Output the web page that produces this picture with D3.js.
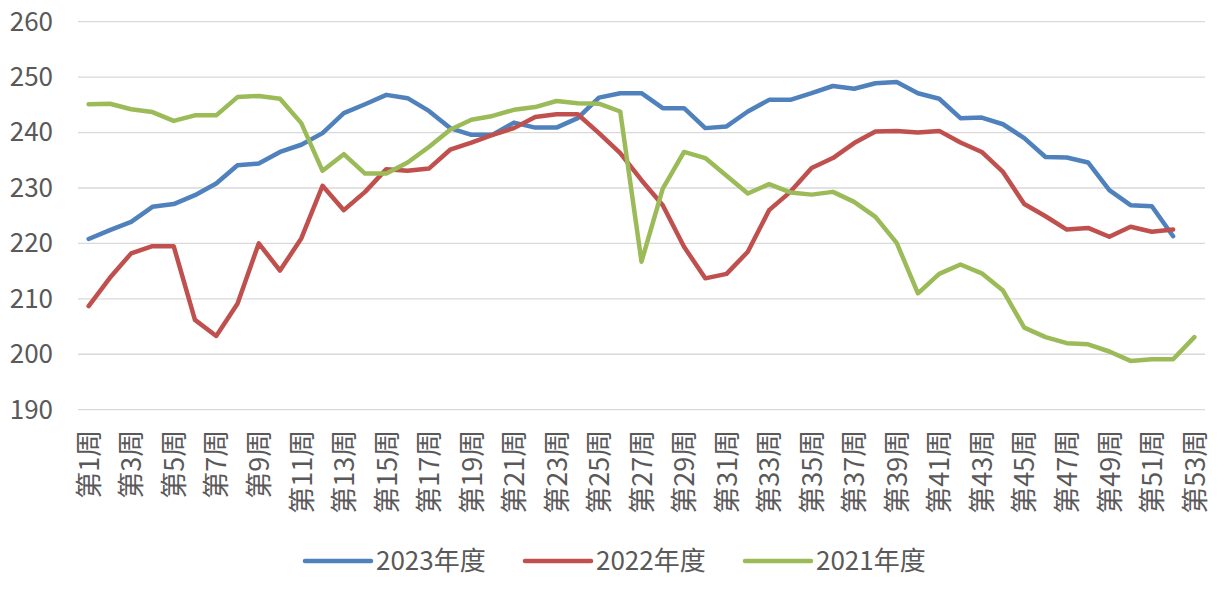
<!DOCTYPE html>
<html><head><meta charset="utf-8">
<script src="https://cdn.jsdelivr.net/npm/d3@7"></script>
<style>body{margin:0;background:#fff}svg{display:block}</style>
</head><body>
<svg id="c" width="1225" height="593"></svg>
<script>
const weeks = ["第1周","第2周","第3周","第4周","第5周","第6周","第7周","第8周","第9周","第10周",
"第11周","第12周","第13周","第14周","第15周","第16周","第17周","第18周","第19周","第20周",
"第21周","第22周","第23周","第24周","第25周","第26周","第27周","第28周","第29周","第30周",
"第31周","第32周","第33周","第34周","第35周","第36周","第37周","第38周","第39周","第40周",
"第41周","第42周","第43周","第44周","第45周","第46周","第47周","第48周","第49周","第50周",
"第51周","第52周","第53周"];
const tickLabels = ["第1周","第3周","第5周","第7周","第9周","第11周","第13周","第15周","第17周","第19周",
"第21周","第23周","第25周","第27周","第29周","第31周","第33周","第35周","第37周","第39周",
"第41周","第43周","第45周","第47周","第49周","第51周","第53周"];
const yTicks = [190,200,210,220,230,240,250,260];
const seriesNames = ["2023年度","2022年度","2021年度"];
const v2023 = [220.8,222.4,223.9,226.6,227.1,228.7,230.8,234.1,234.4,236.5,
237.8,239.9,243.5,245.1,246.8,246.2,243.9,240.8,239.6,239.6,
241.8,240.9,240.9,242.6,246.3,247.1,247.1,244.4,244.4,240.8,
241.1,243.8,245.9,245.9,247.1,248.4,247.9,248.9,249.1,247.1,
246.1,242.6,242.7,241.5,239.0,235.6,235.5,234.6,229.6,226.9,
226.7,221.3,null];
const v2022 = [208.7,213.8,218.2,219.5,219.5,206.2,203.3,209.1,220.0,215.1,
220.9,230.4,226.0,229.3,233.4,233.1,233.5,236.9,238.2,239.6,
240.8,242.8,243.3,243.3,239.9,236.3,231.4,226.9,219.4,213.7,
214.5,218.5,226.0,229.3,233.6,235.4,238.1,240.2,240.3,240.0,
240.3,238.2,236.5,232.9,227.1,224.9,222.5,222.8,221.2,223.0,
222.1,222.5,null];
const v2021 = [245.1,245.2,244.2,243.7,242.1,243.1,243.1,246.4,246.6,246.1,
241.7,233.1,236.1,232.6,232.6,234.6,237.4,240.5,242.3,243.0,
244.1,244.6,245.7,245.3,245.2,243.8,216.7,229.9,236.5,235.4,
232.2,229.0,230.7,229.2,228.8,229.3,227.5,224.8,220.1,211.0,
214.5,216.2,214.6,211.5,204.8,203.1,202.0,201.8,200.5,198.8,
199.1,199.1,203.1];
const colors = ["#4F81BD","#C0504D","#9BBB59"];

const svg = d3.select("#c");
const font = "'Noto Sans CJK SC','Noto Sans',sans-serif";
const x = d3.scalePoint().domain(weeks).range([78,1205]).padding(0.5);
const y = d3.scaleLinear().domain([190,260]).range([409.7,21.7]);

// grid
svg.append("g").selectAll("line").data(yTicks).join("line")
  .attr("x1",78).attr("x2",1205)
  .attr("y1",d=>y(d)).attr("y2",d=>y(d))
  .attr("stroke","#D9D9D9").attr("stroke-width",1.3);

// y axis
const ya = svg.append("g").attr("transform","translate(53,0)")
  .call(d3.axisLeft(y).tickValues(yTicks).tickSize(0).tickPadding(0));
ya.select(".domain").remove();
ya.selectAll("text").attr("font-family",font).attr("font-size",26).attr("fill","#595959");

// x axis labels
const xa = svg.append("g").attr("transform","translate(0,409.7)")
  .call(d3.axisBottom(x).tickValues(tickLabels).tickSize(0));
xa.select(".domain").remove();
xa.selectAll("text")
  .attr("font-family",font).attr("font-size",27).attr("fill","#595959")
  .attr("text-anchor","end")
  .attr("transform","rotate(-90)")
  .attr("x",-20).attr("y",0).attr("dy","0.36em");

// lines
const data = [v2023,v2022,v2021];
const line = d3.line().defined(d=>d!==null).x((d,i)=>x(weeks[i])).y(d=>y(d));
svg.append("g").selectAll("path").data(data).join("path")
  .attr("d",line).attr("fill","none")
  .attr("stroke",(d,i)=>colors[i]).attr("stroke-width",4.5)
  .attr("stroke-linejoin","round").attr("stroke-linecap","round");

// legend
const legX = [305,525,745];
const lg = svg.append("g").selectAll("g").data(seriesNames).join("g")
  .attr("transform",(d,i)=>`translate(${legX[i]},561)`);
lg.append("line").attr("x1",0).attr("x2",66).attr("y1",0).attr("y2",0)
  .attr("stroke",(d,i)=>colors[i]).attr("stroke-width",4.5).attr("stroke-linecap","round");
lg.append("text").attr("x",71).attr("dy","0.36em").text(d=>d)
  .attr("font-family",font).attr("font-size",26).attr("fill","#595959");
</script>
</body></html>
